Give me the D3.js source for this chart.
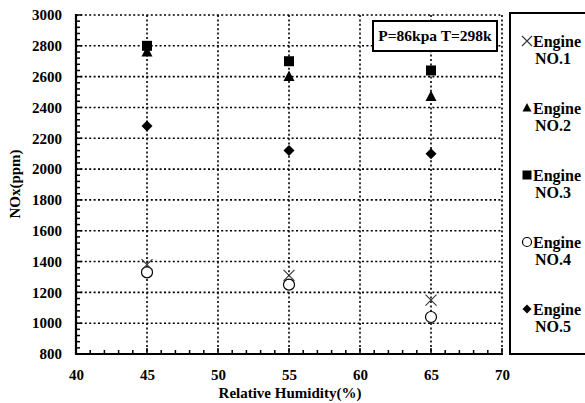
<!DOCTYPE html>
<html><head><meta charset="utf-8">
<script src="https://cdn.jsdelivr.net/npm/d3@7"></script>
<style>
body{margin:0;background:#fff;}
svg text{font-family:'Liberation Serif','Times New Roman',Times,serif !important;font-weight:bold;fill:#000;}
</style></head>
<body><svg id="c" width="585" height="403"></svg>
<script>
const humidity = [45, 55, 65];
const engine1 = [1380, 1310, 1150];
const engine2 = [2760, 2600, 2470];
const engine3 = [2800, 2700, 2640];
const engine4 = [1330, 1250, 1040];
const engine5 = [2280, 2120, 2100];
const seriesNames = ["Engine NO.1","Engine NO.2","Engine NO.3","Engine NO.4","Engine NO.5"];
const xTicks = [40,45,50,55,60,65,70];
const yTicks = [800,1000,1200,1400,1600,1800,2000,2200,2400,2600,2800,3000];
const annotation = "P=86kpa T=298k";

const FONT = "'Liberation Serif','Times New Roman',Times,serif";
const svg = d3.select("#c");
const L=76,R=502,T=15,B=354;
const x = d3.scaleLinear().domain([40,70]).range([L,R]);
const y = d3.scaleLinear().domain([800,3000]).range([B,T]);

// grid
const g = svg.append("g");
g.selectAll(".vg").data(xTicks.slice(1)).enter().append("line")
 .attr("x1",d=>x(d)).attr("x2",d=>x(d)).attr("y1",T).attr("y2",B)
 .attr("stroke","#000").attr("stroke-width",1.6).attr("stroke-dasharray","2,2.4");
g.selectAll(".hg").data(yTicks.slice(1)).enter().append("line")
 .attr("y1",d=>y(d)).attr("y2",d=>y(d)).attr("x1",L).attr("x2",R)
 .attr("stroke","#000").attr("stroke-width",1.6).attr("stroke-dasharray","2,2.4");

// axes
const xAxis = d3.axisBottom(x).tickValues(xTicks).tickFormat(d3.format("d")).tickSize(0).tickPadding(15);
const ax = svg.append("g").attr("transform",`translate(0,${B})`).call(xAxis).attr("font-family",FONT);
ax.select(".domain").remove();
ax.selectAll("text").style("font-family",FONT).style("font-size","15px").style("font-weight","bold");
const yAxis = d3.axisLeft(y).tickValues(yTicks).tickFormat(d3.format("d")).tickSize(0).tickPadding(14);
const ay = svg.append("g").attr("transform",`translate(${L},0)`).call(yAxis).attr("font-family",FONT);
ay.select(".domain").remove();
ay.selectAll("text").style("font-family",FONT).style("font-size","15px").style("font-weight","bold");

// minor ticks
const xm = d3.range(40,70.001,1);
svg.append("g").selectAll("line").data(xm).enter().append("line")
 .attr("x1",d=>x(d)).attr("x2",d=>x(d)).attr("y1",B).attr("y2",d=>d%5===0?B-6:B-4)
 .attr("stroke","#000").attr("stroke-width",1.5);
const ym = d3.range(800,3000.001,40);
svg.append("g").selectAll("line").data(ym).enter().append("line")
 .attr("y1",d=>y(d)).attr("y2",d=>y(d)).attr("x1",L).attr("x2",d=>d%200===0?L+6:L+4)
 .attr("stroke","#000").attr("stroke-width",1.5);
// axis lines
svg.append("path").attr("d",`M${L},${T-1}V${B}H${R+1}`).attr("fill","none").attr("stroke","#000").attr("stroke-width",2.2);

// titles
svg.append("text").attr("x",(L+R)/2+1).attr("y",398).attr("text-anchor","middle").style("font-size","15px").text("Relative Humidity(%)");
svg.append("text").attr("transform","translate(20,184) rotate(-90)").attr("text-anchor","middle").style("font-size","15px").text("NOx(ppm)");

// annotation
svg.append("rect").attr("x",373).attr("y",21).attr("width",124).attr("height",30).attr("fill","#fff").attr("stroke","#000").attr("stroke-width",2);
svg.append("text").attr("x",435).attr("y",41).attr("text-anchor","middle").style("font-size","15.5px").text(annotation);

// symbols
function sym(type, size){
  const s=size/2;
  if(type==="x") return `M${-s},${-s}L${s},${s}M${-s},${s}L${s},${-s}`;
  if(type==="tri") return `M0,${-s*1.1}L${s},${s*0.8}L${-s},${s*0.8}Z`;
  if(type==="sq") return `M${-s},${-s}H${s}V${s}H${-s}Z`;
  if(type==="circ") return d3.arc()({innerRadius:0,outerRadius:s,startAngle:0,endAngle:2*Math.PI});
  if(type==="dia") return `M0,${-s}L${s},0L0,${s}L${-s},0Z`;
}
const series = [
 {v:engine1,t:"x",fill:"none",stroke:"#333",sw:1.1,size:11},
 {v:engine2,t:"tri",fill:"#000",stroke:"none",sw:0,size:11},
 {v:engine3,t:"sq",fill:"#000",stroke:"none",sw:0,size:10},
 {v:engine4,t:"circ",fill:"#fff",stroke:"#000",sw:1.2,size:11},
 {v:engine5,t:"dia",fill:"#000",stroke:"none",sw:0,size:11}
];
const draw=[4,3,0,1,2];
draw.forEach(i=>{
  const s=series[i];
  svg.append("g").selectAll("path").data(humidity.map((h,j)=>[h,s.v[j]])).enter().append("path")
   .attr("transform",d=>`translate(${x(d[0])},${y(d[1])})`)
   .attr("d",sym(s.t,s.size)).attr("fill",s.fill).attr("stroke",s.stroke).attr("stroke-width",s.sw);
});

// legend
svg.append("rect").attr("x",510).attr("y",13).attr("width",90).attr("height",341).attr("fill","none").attr("stroke","#000").attr("stroke-width",2);
const lg = svg.append("g");
series.forEach((s,i)=>{
  const cy = 41 + i*67;
  lg.append("path").attr("transform",`translate(527,${cy})`).attr("d",sym(s.t,s.t==="x"?10:9))
   .attr("fill",s.fill).attr("stroke",s.stroke).attr("stroke-width",s.sw);
  const parts = seriesNames[i].split(" ");
  lg.append("text").attr("x",533).attr("y",cy+6).style("font-size","16px").text(parts[0]);
  lg.append("text").attr("x",535).attr("y",cy+23).style("font-size","16px").text(parts[1]);
});
</script></body></html>
